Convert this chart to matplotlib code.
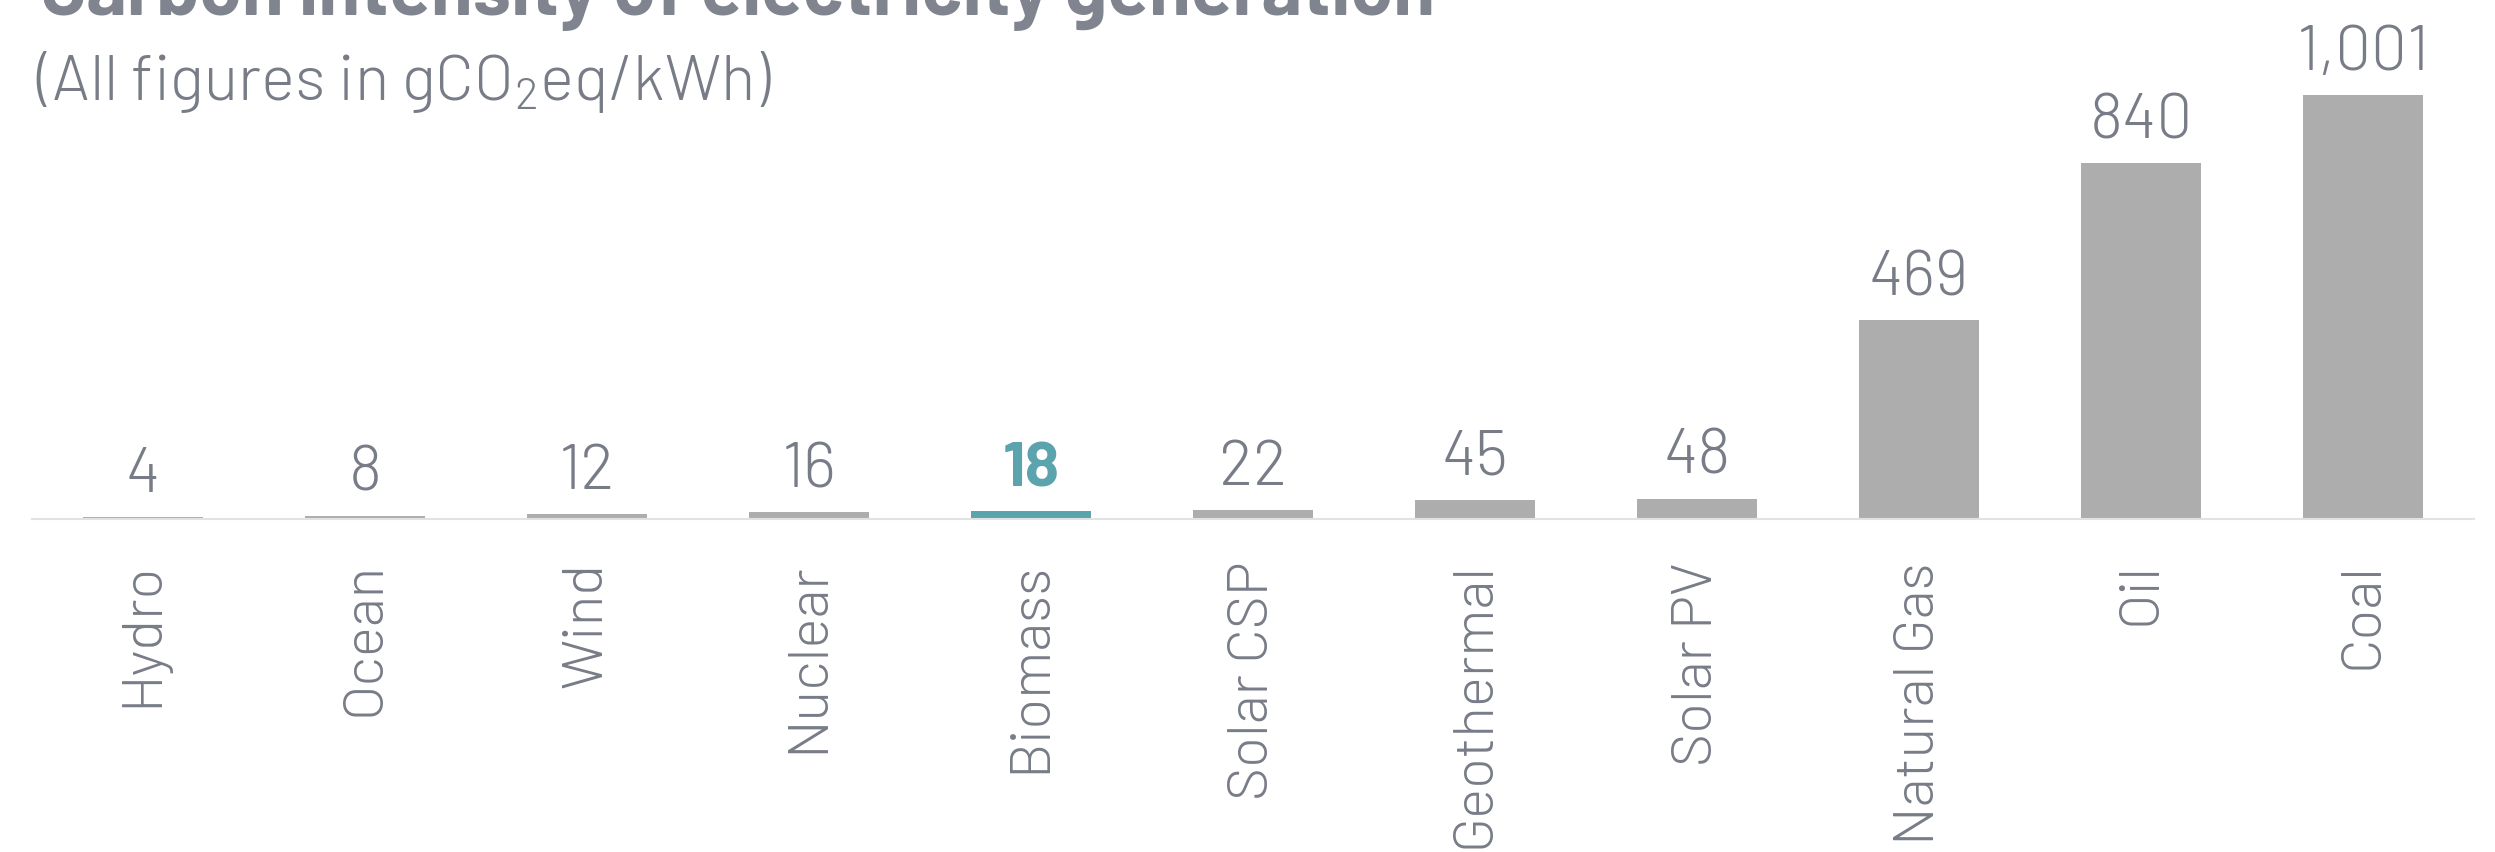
import matplotlib
matplotlib.use("Agg")
import matplotlib.pyplot as plt

# data (gCO2eq/kWh)
sources = ["Hydro", "Ocean", "Wind", "Nuclear", "Biomass", "Solar CSP",
           "Geothermal", "Solar PV", "Natural Gas", "Oil", "Coal"]
intensity = [4, 8, 12, 16, 18, 22, 45, 48, 469, 840, 1001]
highlight = "Biomass"

FONT = "Barlow"
TEXT_GREY = "#787c87"
BAR_GREY = "#adadad"
TEAL = "#5ba3ad"

plt.rcParams["font.family"] = FONT
plt.rcParams["mathtext.default"] = "regular"

fig = plt.figure(figsize=(24.95, 8.52), dpi=100)
ax = fig.add_axes([32 / 2495, 333 / 852, (2474 - 32) / 2495, 519 / 852])

x = list(range(len(sources)))
colors = [TEAL if s == highlight else BAR_GREY for s in sources]
bars = ax.bar(x, intensity, width=0.54, color=colors, linewidth=0)

# value labels above each bar
for rect, val, src in zip(bars, intensity, sources):
    is_hl = src == highlight
    ax.annotate(f"{val:,}",
                xy=(rect.get_x() + rect.get_width() / 2, rect.get_height()),
                xytext=(0, 18), textcoords="offset points",
                ha="center", va="baseline", fontsize=46,
                fontweight=700 if is_hl else 300,
                color=TEAL if is_hl else TEXT_GREY)

ax.set_xlim(-0.5, 10.5)
ax.set_ylim(0, 1225)

ax.set_xticks(x)
ax.set_xticklabels(sources, rotation=90, fontsize=41, fontweight=300,
                   color=TEXT_GREY)
ax.tick_params(axis="x", length=0, pad=31)
ax.set_yticks([])

for side in ["top", "right", "left"]:
    ax.spines[side].set_visible(False)
ax.spines["bottom"].set_color("#e2e2e2")
ax.spines["bottom"].set_linewidth(1.5)
ax.patch.set_alpha(0)

# title sits partly above the top edge, as in the original
fig.text(40 / 2495, 1 - 15 / 852, "Carbon intensity of electricity generation",
         fontsize=55, fontweight=700, color="#80848e", va="baseline", ha="left")
fig.text(36 / 2495, 1 - 100 / 852, "(All figures in gCO$_2$eq/kWh)",
         fontsize=46, fontweight=300, color=TEXT_GREY, va="baseline", ha="left")

fig.savefig("out.png", dpi=100)
